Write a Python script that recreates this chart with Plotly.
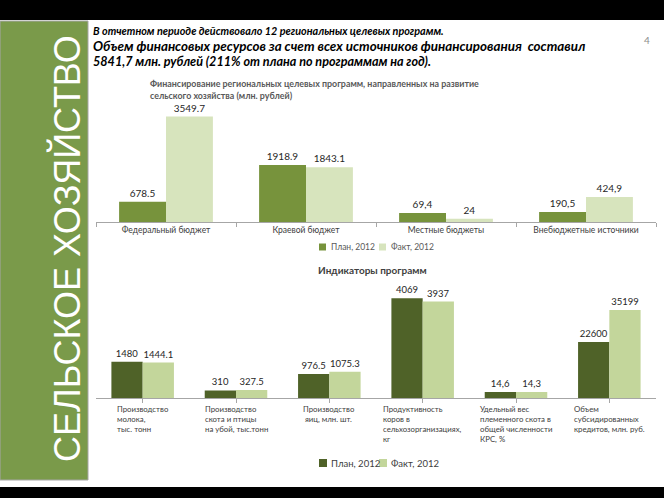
import plotly.graph_objects as go

W, H = 664, 498

# ---------------- data ----------------
fin_categories = ["Федеральный бюджет", "Краевой бюджет", "Местные бюджеты", "Внебюджетные источники"]
fin_plan_labels = ["678.5", "1918.9", "69,4", "190,5"]
fin_fact_labels = ["3549.7", "1843.1", "24", "424,9"]
# bar heights as drawn in the picture
fin_plan_heights = [678.5, 1918.9, 300, 340]
fin_fact_heights = [3549.7, 1843.1, 110, 840]

ind_categories = [
    "Производство<br>молока,<br>тыс. тонн",
    "Производство<br>скота и птицы<br>на убой, тыс.тонн",
    "Производство<br> яиц, млн. шт.",
    "Продуктивность<br>коров в<br>сельхозорганизациях,<br>кг",
    "Удельный вес<br>племенного скота в<br>общей численности<br>КРС, %",
    "Объем<br>субсидированных<br>кредитов, млн. руб.",
]
ind_plan_labels = ["1480", "310", "976.5", "4069", "14,6", "22600"]
ind_fact_labels = ["1444.1", "327.5", "1075.3", "3937", "14,3", "35199"]
# bar heights as drawn in the picture
ind_plan_heights = [1480, 310, 976.5, 4069, 245, 2290]
ind_fact_heights = [1444.1, 327.5, 1075.3, 3937, 240, 3590]

series_names = ["План, 2012", "Факт, 2012"]
fin_colors = ["#77933c", "#d7e4bd"]
ind_colors = ["#4f6228", "#c3d69b"]

# ---------------- helpers ----------------
def py(p):
    return (H - p) / H

def px(p):
    return p / W

FONT = "Lato, 'Open Sans', sans-serif"
fig = go.Figure()

# top chart
for heights, labels, name, col in [(fin_plan_heights, fin_plan_labels, series_names[0], fin_colors[0]),
                                   (fin_fact_heights, fin_fact_labels, series_names[1], fin_colors[1])]:
    fig.add_trace(go.Bar(x=fin_categories, y=heights, name=name,
                         marker=dict(color=col, line=dict(width=0)),
                         text=labels, textposition="outside", cliponaxis=False,
                         textfont=dict(size=10, color="#262626", family=FONT),
                         xaxis="x", yaxis="y", hoverinfo="skip"))
# bottom chart
for heights, labels, name, col in [(ind_plan_heights, ind_plan_labels, series_names[0], ind_colors[0]),
                                   (ind_fact_heights, ind_fact_labels, series_names[1], ind_colors[1])]:
    fig.add_trace(go.Bar(x=list(range(len(ind_categories))), y=heights, name=name,
                         marker=dict(color=col, line=dict(width=0)),
                         text=labels, textposition="outside", cliponaxis=False,
                         textfont=dict(size=9.5, color="#262626", family=FONT),
                         xaxis="x2", yaxis="y2", hoverinfo="skip"))

xdom = [px(96), px(656)]

shapes = [
    dict(type="rect", xref="paper", yref="paper", x0=0, x1=1, y0=py(20), y1=1,
         fillcolor="black", line=dict(width=0), layer="below"),
    dict(type="rect", xref="paper", yref="paper", x0=0, x1=1, y0=0, y1=py(487),
         fillcolor="black", line=dict(width=0), layer="below"),
    dict(type="rect", xref="paper", yref="paper", x0=0, x1=px(88), y0=py(480), y1=py(21),
         fillcolor="#7a9a4a", line=dict(width=1, color="#a6a6a6"), layer="below"),
]

header = ("<span style='font-size:10.8px'>В отчетном периоде действовало 12 региональных целевых программ.</span><br>"
          "<span style='font-size:13.4px'>Объем финансовых ресурсов за счет всех источников финансирования  составил</span><br>"
          "<span style='font-size:12.6px'>5841,7 млн. рублей (211% от плана по программам на год).</span>")

annotations = [
    dict(text="СЕЛЬСКОЕ ХОЗЯЙСТВО", textangle=-90, x=px(44), y=py(249), xref="paper", yref="paper",
         showarrow=False, font=dict(size=36, color="white", family="Liberation Sans, Arial, sans-serif")),
    dict(text=header,
         x=px(91), y=py(22), xref="paper", yref="paper", xanchor="left", yanchor="top", align="left",
         showarrow=False,
         font=dict(size=12, color="black", family=FONT, style="italic", weight="bold")),
    dict(text="4", x=px(652), y=py(32), xref="paper", yref="paper", showarrow=False,
         font=dict(size=10, color="#8c8c8c", family=FONT)),
    dict(text="Финансирование региональных целевых программ, направленных на развитие<br>"
              "сельского хозяйства (млн. рублей)",
         x=px(148), y=py(76), xref="paper", yref="paper", xanchor="left", yanchor="top", align="left",
         showarrow=False, font=dict(size=8.9, color="#595959", family=FONT, weight="bold")),
    dict(text="Индикаторы программ", x=px(372), y=py(270), xref="paper", yref="paper",
         showarrow=False, font=dict(size=10, color="#404040", family=FONT, weight="bold")),
]
for i, lab in enumerate(ind_categories):
    annotations.append(dict(text=lab, x=i, xref="x2", y=py(402), yref="paper",
                            xanchor="center", yanchor="top", align="left", showarrow=False,
                            font=dict(size=7.8, color="#404040", family=FONT)))

# hand-placed compact legends (squares + names)
legend_specs = [
    (247, fin_colors, 8.5, "#595959", 7),
    (463, ind_colors, 9.5, "#404040", 8),
]
for ly, cols, fsize, fcol, sq in legend_specs:
    for (sx, tx), name, col in zip([(319, 329), (379, 389)], series_names, cols):
        shapes.append(dict(type="rect", xref="paper", yref="paper",
                           x0=px(sx), x1=px(sx + sq), y0=py(ly + sq / 2), y1=py(ly - sq / 2),
                           fillcolor=col, line=dict(width=0)))
        annotations.append(dict(text=name, x=px(tx), y=py(ly), xref="paper", yref="paper",
                                xanchor="left", yanchor="middle", showarrow=False,
                                font=dict(size=fsize, color=fcol, family=FONT)))

fig.update_layout(
    width=W, height=H, margin=dict(l=0, r=0, t=0, b=0),
    paper_bgcolor="white", plot_bgcolor="rgba(0,0,0,0)",
    barmode="group", bargap=0.33, bargroupgap=0,
    showlegend=False,
    shapes=shapes, annotations=annotations,
    xaxis=dict(domain=xdom, anchor="y", showgrid=False, showline=True, linecolor="#a6a6a6",
               linewidth=1, ticks="outside", tickson="boundaries", ticklen=4, tickcolor="#a6a6a6",
               tickfont=dict(size=8.5, color="#404040", family=FONT), fixedrange=True),
    yaxis=dict(domain=[py(222), py(103.2)], range=[0, 4000], visible=False, fixedrange=True),
    xaxis2=dict(domain=xdom, anchor="y2", showgrid=False, showline=True, linecolor="#a6a6a6",
                linewidth=1, ticks="outside", tickson="boundaries", ticklen=4, tickcolor="#a6a6a6",
                showticklabels=False, range=[-0.5, 5.5], fixedrange=True),
    yaxis2=dict(domain=[py(398), py(290.2)], range=[0, 4400], visible=False, fixedrange=True),
)

fig.write_html("out.html", config={"displayModeBar": False},
               post_script="document.body.style.margin='0';")
